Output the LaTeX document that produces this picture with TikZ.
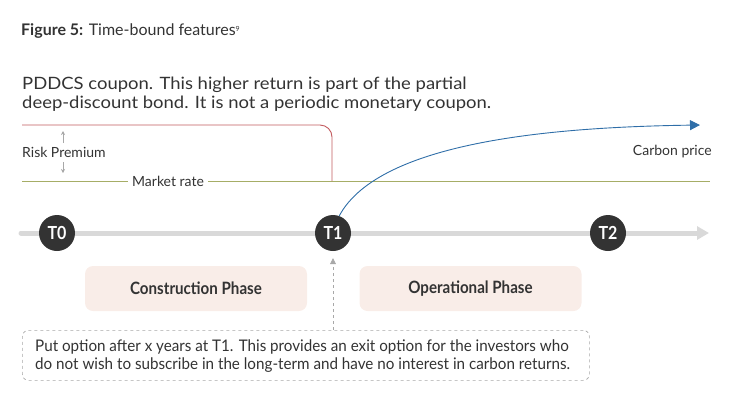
\documentclass[tikz,border=0pt]{standalone}
\usepackage{fontspec}
\setmainfont{Lato}
\newfontfamily\condfont[FakeStretch=0.89]{Lato}
\newfontfamily\putfont[FakeStretch=0.95]{Lato}
\newfontfamily\widefont[FakeStretch=1.085]{Lato}
\usetikzlibrary{arrows.meta}
\definecolor{redline}{HTML}{C25A5E}
\definecolor{greenline}{HTML}{A6AD66}
\definecolor{blueline}{HTML}{2F6EA8}
\definecolor{tl}{HTML}{D9D9D9}
\definecolor{dark}{HTML}{333333}
\definecolor{phasefill}{HTML}{F9EDE8}
\definecolor{txt}{HTML}{333333}
\definecolor{dashgray}{HTML}{A8A8A8}
\tikzset{
  tnode/.style={circle, fill=dark, minimum size=36pt, inner sep=0pt, text=white, font=\condfont\fontsize{18}{20}\selectfont\bfseries},
  phasebox/.style={rounded corners=8pt, fill=phasefill, minimum width=222pt, minimum height=45pt, text=txt, font=\condfont\fontsize{17}{20}\selectfont\bfseries},
  lbl/.style={text=txt, font=\fontsize{14}{16}\selectfont, inner sep=0pt},
}
\begin{document}
\begin{tikzpicture}[x=1pt,y=-1pt]
\useasboundingbox (0,0) rectangle (740,413);
% title
\node[anchor=west, text=txt, inner sep=0pt, font=\fontsize{16}{18}\selectfont] (title) at (21,31) {\textbf{Figure 5:} Time-bound features\raisebox{0.5ex}{\fontsize{7}{8}\selectfont 9}};
% top note
\node[anchor=north west, text=txt, inner sep=0pt, align=left, font=\widefont\fontsize{17}{19.5}\selectfont] (note) at (22,76.5) {PDDCS coupon. This higher return is part of the partial\\deep-discount bond. It is not a periodic monetary coupon.};
% market rate line
\coordinate (mrL) at (22,181);
\coordinate (mrR) at (710,181);
\draw[greenline, line width=0.9pt] (mrL) -- (mrR);
\node[lbl, fill=white, inner xsep=4pt, inner ysep=2pt] (mrate) at (168,181) {Market rate};
% red risk premium line
\coordinate (rpL) at (22,125);
\coordinate (rpE) at (332,181);
\draw[redline, line width=0.9pt, rounded corners=12pt] (rpL) -| (rpE);
% risk premium label and arrows
\node[lbl, anchor=west] (rp) at (22,152) {Risk Premium};
\coordinate (rpUp) at (63,131);
\coordinate (rpDn) at (63,173);
\draw[dashgray, line width=0.6pt, -{Stealth[length=4pt,width=4pt]}] (63,143) -- (rpUp);
\draw[dashgray, line width=0.6pt, -{Stealth[length=4pt,width=4pt]}] (63,162) -- (rpDn);
% timeline
\coordinate (tlS) at (21,233);
\coordinate (tlE) at (709,233);
\draw[tl, line width=5pt, line cap=round, -{Triangle[length=12pt,width=13pt]}] (tlS) -- (tlE);
\node[tnode] (t0) at (57,233) {T0};
\node[tnode] (t1) at (333,233) {T1};
\node[tnode] (t2) at (608,233) {T2};
% carbon price curve
\coordinate (cp) at (700,125);
\draw[blueline, line width=0.9pt, -{Triangle[length=10pt,width=10pt]}] (t1.70) .. controls (380,140) and (560,127) .. (cp);
\node[lbl, anchor=east] (cplbl) at (712,152) {Carbon price};
% phases
\node[phasebox] (construction) at (196,288.5) {Construction Phase};
\node[phasebox] (operational) at (470.5,288.5) {Operational Phase};
% put option box
\node[draw=dashgray, dashed, rounded corners=6pt, line width=0.7pt, minimum width=567pt, minimum height=50pt, anchor=north west, inner sep=0pt] (putbox) at (22,330) {};
\node[anchor=west, text=txt, inner sep=0pt, align=left, font=\putfont\fontsize{16}{18.5}\selectfont] (puttext) at (35,356) {Put option after x years at T1. This provides an exit option for the investors who\\do not wish to subscribe in the long-term and have no interest in carbon returns.};
\draw[dashgray, dashed, line width=0.7pt, -{Triangle[length=6pt,width=6pt]}] (putbox.north -| t1) -- ([yshift=-7pt]t1.south);
\end{tikzpicture}
\end{document}
